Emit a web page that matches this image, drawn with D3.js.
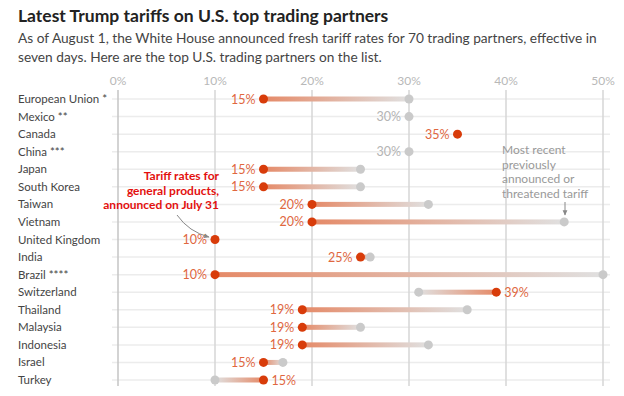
<!DOCTYPE html>
<meta charset="utf-8">
<script src="https://d3js.org/d3.v7.min.js"></script>
<style>
  body { margin: 0; background: #fff; font-family: Lato, "Open Sans", sans-serif; }
</style>
<div id="chart"></div>
<script>
// data
var countries = ["European Union *", "Mexico **", "Canada", "China ***", "Japan", "South Korea",
  "Taiwan", "Vietnam", "United Kingdom", "India", "Brazil ****", "Switzerland", "Thailand",
  "Malaysia", "Indonesia", "Israel", "Turkey"];
var newRates = [15, null, 35, null, 15, 15, 20, 20, 10, 25, 10, 39, 19, 19, 19, 15, 15];
var prevRates = [30, 30, null, 30, 25, 25, 32, 46, null, 26, 50, 31, 36, 25, 32, 17, 10];
var ticks = [0, 10, 20, 30, 40, 50];

var W = 624, H = 396;
var svg = d3.select("#chart").append("svg").attr("width", W).attr("height", H);

var x = d3.scaleLinear().domain([0, 50]).range([118, 603]);
var y = d3.scalePoint().domain(countries).range([99, 380]);

var red = "#d83c0a", gray = "#cacaca", labelRed = "#e0673f";

// title + subtitle
svg.append("text").attr("x", 18).attr("y", 22)
  .attr("font-size", 17.5).attr("font-weight", "bold").attr("fill", "#222")
  .text("Latest Trump tariffs on U.S. top trading partners");
svg.append("text").attr("x", 18).attr("y", 43)
  .attr("font-size", 13.7).attr("fill", "#444")
  .text("As of August 1, the White House announced fresh tariff rates for 70 trading partners, effective in");
svg.append("text").attr("x", 18).attr("y", 62)
  .attr("font-size", 13.7).attr("fill", "#444")
  .text("seven days. Here are the top U.S. trading partners on the list.");

// row lines
svg.append("g").selectAll("line").data(countries).enter().append("line")
  .attr("x1", 112).attr("x2", 610)
  .attr("y1", function(d) { return y(d); }).attr("y2", function(d) { return y(d); })
  .attr("stroke", "#ececec").attr("stroke-width", 1.5);

// vertical grid
svg.append("g").selectAll("line").data(ticks).enter().append("line")
  .attr("x1", function(d) { return x(d); }).attr("x2", function(d) { return x(d); })
  .attr("y1", 90).attr("y2", 386)
  .attr("stroke", function(d) { return d === 0 ? "#c4c4c4" : "#d6d6d6"; })
  .attr("stroke-width", 1.5);

svg.append("g").selectAll("text").data(ticks).enter().append("text")
  .attr("x", function(d) { return x(d); }).attr("y", 85)
  .attr("text-anchor", "middle").attr("font-size", 12).attr("fill", "#b8b8b8")
  .text(function(d) { return d + "%"; });

// country labels
svg.append("g").selectAll("text").data(countries).enter().append("text")
  .attr("x", 18).attr("y", function(d) { return y(d) + 4; })
  .attr("font-size", 11.5).attr("fill", "#444")
  .text(function(d) { return d; });

var rows = countries.map(function(c, i) { return {c: c, n: newRates[i], p: prevRates[i], i: i}; });

// gradient segments
var defs = svg.append("defs");
rows.forEach(function(d) {
  if (d.n == null || d.p == null) return;
  var g = defs.append("linearGradient").attr("id", "g" + d.i)
    .attr("gradientUnits", "userSpaceOnUse")
    .attr("x1", x(d.n)).attr("x2", x(d.p)).attr("y1", 0).attr("y2", 0);
  g.append("stop").attr("offset", "0%").attr("stop-color", "#e58a68");
  g.append("stop").attr("offset", "100%").attr("stop-color", "#e0e0e0");
});

svg.append("g").selectAll("rect").data(rows.filter(function(d) { return d.n != null && d.p != null; }))
  .enter().append("rect")
  .attr("x", function(d) { return Math.min(x(d.n), x(d.p)); })
  .attr("width", function(d) { return Math.abs(x(d.p) - x(d.n)); })
  .attr("y", function(d) { return y(d.c) - 2.5; }).attr("height", 5)
  .attr("fill", function(d) { return "url(#g" + d.i + ")"; });

// previous dots
svg.append("g").selectAll("circle").data(rows.filter(function(d) { return d.p != null; }))
  .enter().append("circle")
  .attr("cx", function(d) { return x(d.p); }).attr("cy", function(d) { return y(d.c); })
  .attr("r", 4.5).attr("fill", gray);

// new dots
svg.append("g").selectAll("circle").data(rows.filter(function(d) { return d.n != null; }))
  .enter().append("circle")
  .attr("cx", function(d) { return x(d.n); }).attr("cy", function(d) { return y(d.c); })
  .attr("r", 4.5).attr("fill", red);

// value labels
svg.append("g").selectAll("text").data(rows).enter().append("text")
  .attr("y", function(d) { return y(d.c) + 4.5; })
  .attr("font-size", 12.5)
  .each(function(d) {
    var t = d3.select(this);
    if (d.n == null) {
      t.attr("x", x(d.p) - 8).attr("text-anchor", "end").attr("fill", "#b4b4b4").text(d.p + "%");
    } else if (d.p != null && d.p < d.n) {
      t.attr("x", x(d.n) + 8).attr("text-anchor", "start").attr("fill", labelRed).text(d.n + "%");
    } else {
      t.attr("x", x(d.n) - 8).attr("text-anchor", "end").attr("fill", labelRed).text(d.n + "%");
    }
  });

// annotations
defs.append("marker").attr("id", "arr").attr("viewBox", "0 0 10 10")
  .attr("refX", 8).attr("refY", 5).attr("markerWidth", 6).attr("markerHeight", 6)
  .attr("orient", "auto")
  .append("path").attr("d", "M0,1 L9,5 L0,9 Z").attr("fill", "#888");

var ann1 = ["Tariff rates for", "general products,", "announced on July 31"];
svg.append("g").selectAll("text").data(ann1).enter().append("text")
  .attr("x", 219).attr("y", function(d, i) { return 180 + i * 14.5; })
  .attr("text-anchor", "end").attr("font-size", 12).attr("font-weight", "bold")
  .attr("fill", "#e3100e").text(function(d) { return d; });

svg.append("path")
  .attr("d", "M177,215 Q189,232 209,237")
  .attr("fill", "none").attr("stroke", "#888").attr("stroke-width", 1)
  .attr("marker-end", "url(#arr)");

var ann2 = ["Most recent", "previously", "announced or", "threatened tariff"];
svg.append("g").selectAll("text").data(ann2).enter().append("text")
  .attr("x", 502).attr("y", function(d, i) { return 154 + i * 14.5; })
  .attr("font-size", 12).attr("fill", "#999").text(function(d) { return d; });

svg.append("path")
  .attr("d", "M565,202 L565,215")
  .attr("fill", "none").attr("stroke", "#888").attr("stroke-width", 1)
  .attr("marker-end", "url(#arr)");
</script>
